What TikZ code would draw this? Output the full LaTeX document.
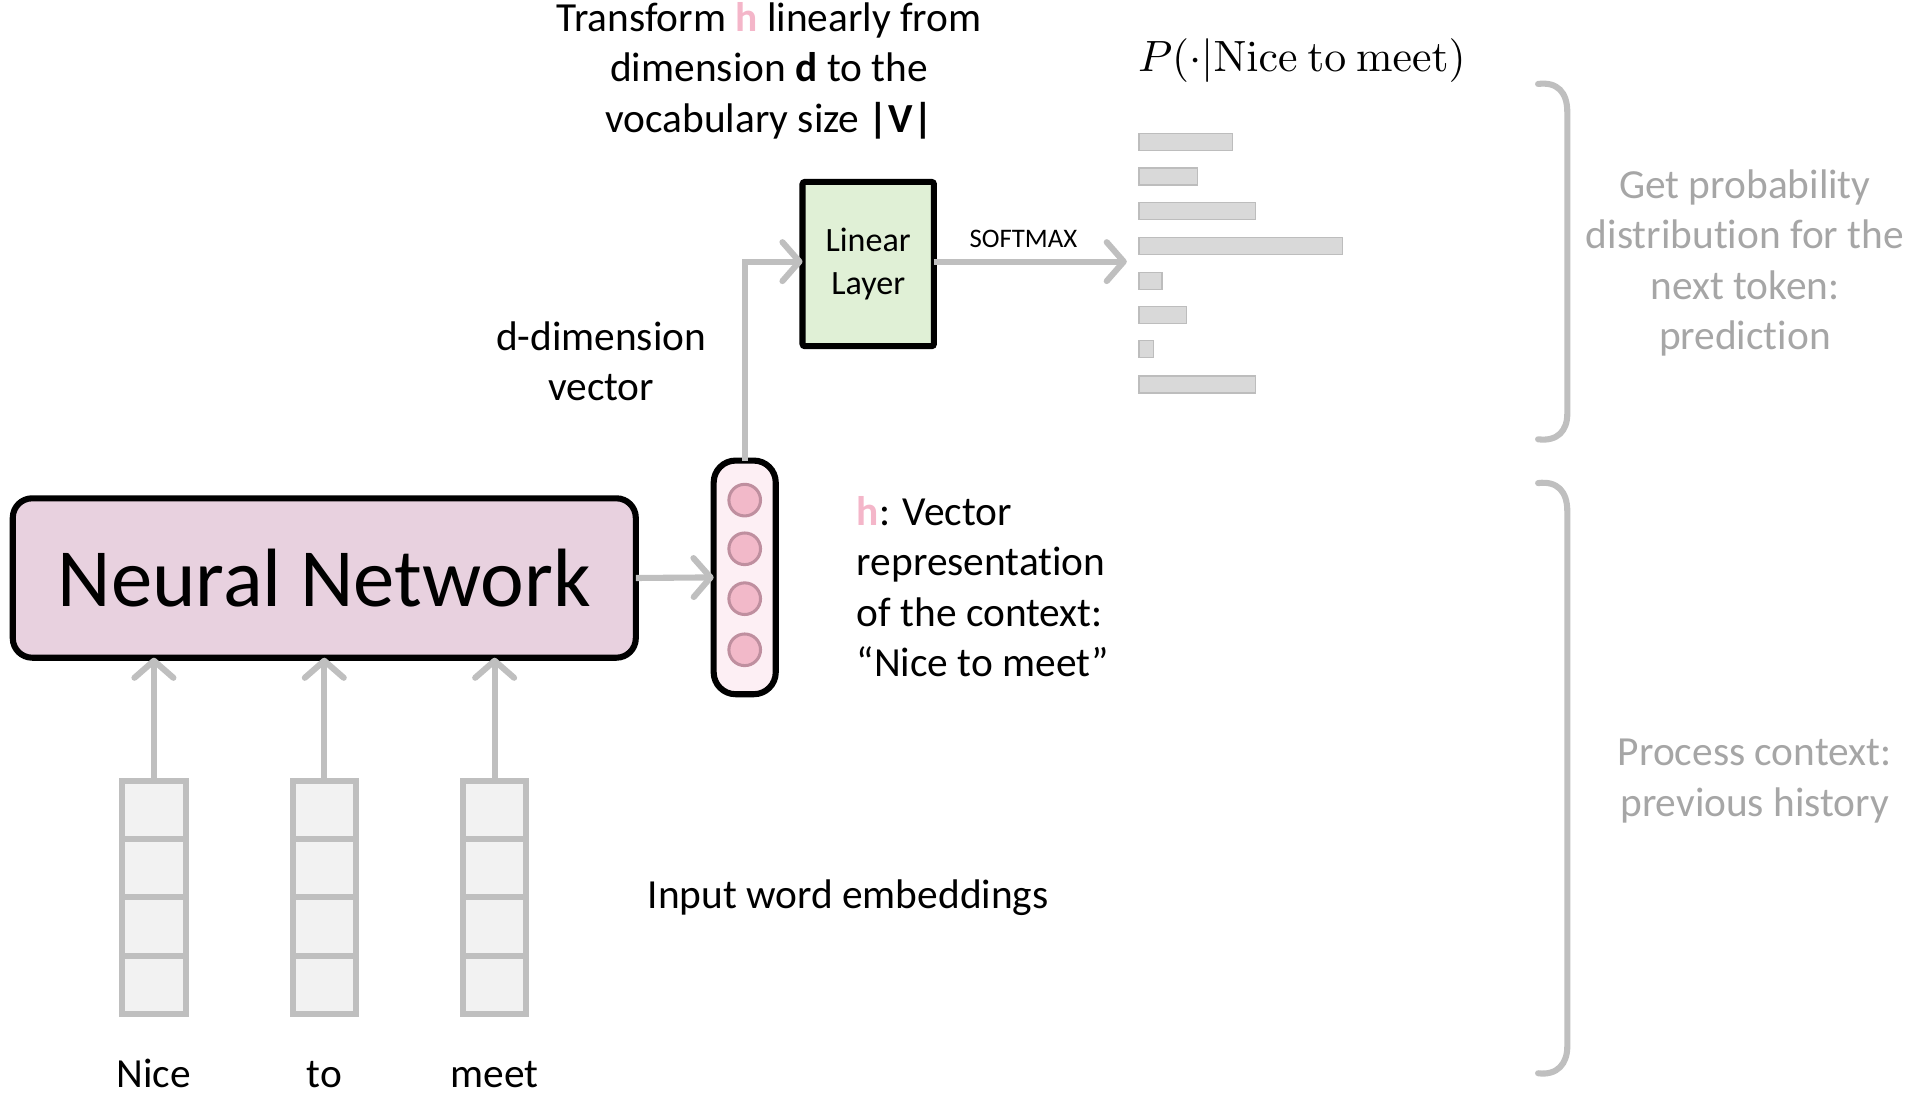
\documentclass[tikz,border=0pt]{standalone}
\usepackage[no-math]{fontspec}
\setmainfont{Carlito}[Ligatures=NoCommon]
\usetikzlibrary{arrows.meta,calc}
\definecolor{nnfill}{HTML}{E8D1DF}
\definecolor{hfill}{HTML}{FDEFF4}
\definecolor{circfill}{HTML}{F2B9C9}
\definecolor{circdraw}{HTML}{BF8F9F}
\definecolor{linfill}{HTML}{E0F0D6}
\definecolor{arrgray}{HTML}{BFBFBF}
\definecolor{barfill}{HTML}{D9D9D9}
\definecolor{bardraw}{HTML}{BDBDBD}
\definecolor{embfill}{HTML}{F2F2F2}
\definecolor{txtgray}{HTML}{A6A6A6}
\definecolor{hpink}{HTML}{F4B6C9}
\newcommand{\bigtxt}{\fontsize{34}{41.5}\selectfont}
\tikzset{
  garrow/.style={draw=arrgray,line width=5pt,-{Straight Barb[length=14pt,width=32pt,line cap=round,line join=round]}},
  blackbox/.style={draw=black,line width=5pt,inner sep=0pt,outer sep=0pt},
  embbox/.style={draw=arrgray,fill=embfill,line width=5pt,inner sep=0pt,outer sep=0pt,minimum width=52pt,minimum height=192pt},
  barbox/.style={draw=bardraw,fill=barfill,line width=1pt,inner sep=0pt,outer sep=0pt,minimum height=14pt,anchor=west},
  circ/.style={circle,draw=circdraw,fill=circfill,line width=2.5pt,minimum size=26pt,inner sep=0pt},
  txt/.style={inner sep=0pt,font=\bigtxt,align=center},
  gtxt/.style={inner sep=0pt,font=\bigtxt,align=center,text=txtgray},
  bracket/.style={draw=arrgray,line width=5pt,line cap=round}
}
\begin{document}
\begin{tikzpicture}[x=1pt,y=-1pt]
\useasboundingbox (0,0) rectangle (1568,902);
% Neural network
\node[blackbox,rounded corners=16pt,fill=nnfill,minimum width=512pt,minimum height=131pt,font=\fontsize{68}{80}\selectfont] (nn) at (266.5,475) {Neural Network};
% h vector
\node[blackbox,rounded corners=18pt,fill=hfill,minimum width=51pt,minimum height=192pt] (hvec) at (612,474.5) {};
\node[circ] (c1) at (612,411) {};
\node[circ] (c2) at (612,451) {};
\node[circ] (c3) at (612,492) {};
\node[circ] (c4) at (612,534) {};
% linear layer
\node[blackbox,rounded corners=2pt,fill=linfill,minimum width=108pt,minimum height=135pt,font=\fontsize{28}{35}\selectfont,align=center] (lin) at (713.5,217) {Linear\\Layer};
% arrows
\draw[garrow] (nn.east) -- (hvec.west);
\draw[garrow] (hvec.north) |- ($(lin.west)+(0,-2)$);
\coordinate (barstart) at (926,215);
\draw[garrow] ($(lin.east)+(0,-2)$) -- (barstart);
\node[inner sep=0pt,font=\fontsize{22}{26}\selectfont] (sm) at (841,196) {SOFTMAX};
% bars
\node[barbox,minimum width=77pt] (bar1) at (936,117) {};
\node[barbox,minimum width=48pt] (bar2) at (936,145) {};
\node[barbox,minimum width=96pt] (bar3) at (936,173.5) {};
\node[barbox,minimum width=167pt] (bar4) at (936,202) {};
\node[barbox,minimum width=19pt] (bar5) at (936,231) {};
\node[barbox,minimum width=39pt] (bar6) at (936,259) {};
\node[barbox,minimum width=12pt] (bar7) at (936,287) {};
\node[barbox,minimum width=96pt] (bar8) at (936,316) {};
\node[inner sep=0pt,anchor=west] (prob) at (935,50) {\scalebox{3.6}{$P(\cdot|\mathrm{Nice\ to\ meet})$}};
% top text
\node[txt] (transform) at (632,58) {Transform \textbf{\textcolor{hpink}{h}} linearly from\\dimension \textbf{d} to the\\vocabulary size \textbf{|V|}};
\node[txt] (ddim) at (494,297) {d-dimension\\vector};
\node[txt,align=left,anchor=west] (hdesc) at (704,482) {\textbf{\textcolor{hpink}{h}}: Vector\\representation\\of the context:\\“Nice to meet”};
% embeddings
\foreach \i/\x/\w in {1/126.5/Nice,2/266.5/to,3/406.5/meet}{
  \node[embbox] (e\i) at (\x,737.5) {};
  \draw[draw=arrgray,line width=5pt] ($(e\i.north west)+(0,48)$) -- ($(e\i.north east)+(0,48)$);
  \draw[draw=arrgray,line width=5pt] ($(e\i.north west)+(0,96)$) -- ($(e\i.north east)+(0,96)$);
  \draw[draw=arrgray,line width=5pt] ($(e\i.north west)+(0,144)$) -- ($(e\i.north east)+(0,144)$);
  \draw[garrow] (e\i.north) -- (e\i.north |- nn.south);
  \node[txt,anchor=base] (w\i) at (\x,894) {\w};
}
\node[txt] (inemb) at (697,738) {Input word embeddings};
% brackets
\draw[bracket] (1264,69) .. controls (1280,67) and (1288,76) .. (1288,92) -- (1288,340) .. controls (1288,354) and (1280,363) .. (1264,361);
\draw[bracket] (1264,397) .. controls (1280,395) and (1288,404) .. (1288,420) -- (1288,860) .. controls (1288,874) and (1280,884) .. (1264,882);
\node[gtxt] (gettxt) at (1434,216) {Get probability\\distribution for the\\next token:\\prediction};
\node[gtxt] (proctxt) at (1442,642) {Process context:\\previous history};
\end{tikzpicture}
\end{document}
